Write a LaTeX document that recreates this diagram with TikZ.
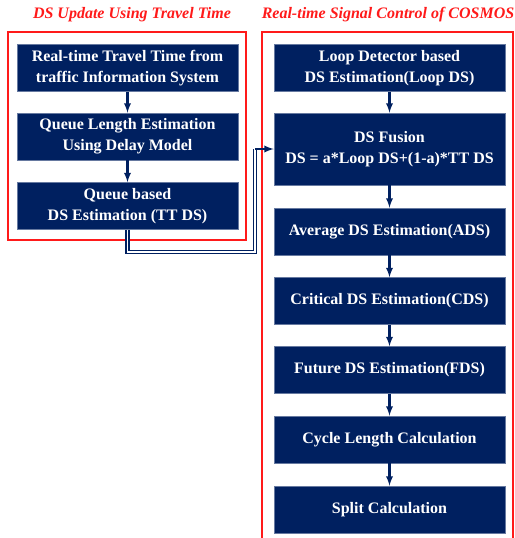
\documentclass[tikz,border=0pt]{standalone}
\usepackage{fontspec}
\setmainfont{Liberation Serif}
\usepackage{tikz}
\usetikzlibrary{arrows}
\definecolor{navy}{HTML}{002060}
\definecolor{redline}{HTML}{FF1A1A}
\tikzset{
  box/.style={fill=navy,draw=navy!60!white,line width=0.5pt,text=white,align=center,
    font=\fontsize{16}{21}\selectfont\bfseries,inner sep=0pt},
  lbox/.style={box,minimum width=221pt,minimum height=47pt},
  rbox/.style={box,minimum width=231pt,minimum height=47pt},
  frame/.style={draw=redline,line width=1.5pt},
  ttl/.style={text=redline,font=\fontsize{16}{18}\selectfont\bfseries\itshape},
  link/.style={draw=navy,line width=2.2pt,-latex}
}
\begin{document}
\begin{tikzpicture}[x=1pt,y=-1pt]
\useasboundingbox (0,0) rectangle (514,538);
\node[ttl] (lt) at (132,15) {DS Update Using Travel Time};
\node[ttl] (rt) at (388,15) {Real-time Signal Control of COSMOS};
\draw[frame] (8,32) rectangle (246,240);
\draw[frame] (262,538) -- (262,32) -- (513,32) -- (513,538);
\node[lbox] (travel) at (127.5,68) {Real-time Travel Time from\\traffic Information System};
\node[lbox] (queue) at (127.5,136.5) {Queue Length Estimation\\Using Delay Model};
\node[lbox] (ttds) at (127.5,206) {Queue based\\DS Estimation (TT DS)};
\node[rbox] (loop) at (389.5,68) {Loop Detector based\\DS Estimation(Loop DS)};
\node[rbox,minimum height=72pt] (fusion) at (389.5,149) {DS Fusion\\DS = a*Loop DS+(1-a)*TT DS};
\node[rbox] (ads) at (389.5,231.5) {Average DS Estimation(ADS)};
\node[rbox] (cds) at (389.5,301) {Critical DS Estimation(CDS)};
\node[rbox] (fds) at (389.5,370) {Future DS Estimation(FDS)};
\node[rbox] (cycle) at (389.5,439.5) {Cycle Length Calculation};
\node[rbox] (split) at (389.5,509.5) {Split Calculation};
\draw[link] (travel) -- (queue);
\draw[link] (queue) -- (ttds);
\draw[link] (loop) -- (fusion);
\draw[link] (fusion) -- (ads);
\draw[link] (ads) -- (cds);
\draw[link] (cds) -- (fds);
\draw[link] (fds) -- (cycle);
\draw[link] (cycle) -- (split);
\coordinate (c1) at (127.5,252);
\coordinate (c2) at (255,252);
\coordinate (c3) at (255,149);
\draw[navy,line width=1.6pt,double=white,double distance=1.4pt] (ttds.south) -- (c1) -- (c2) -- (c3);
\draw[link] (c3) -- (fusion.west);
\end{tikzpicture}
\end{document}
